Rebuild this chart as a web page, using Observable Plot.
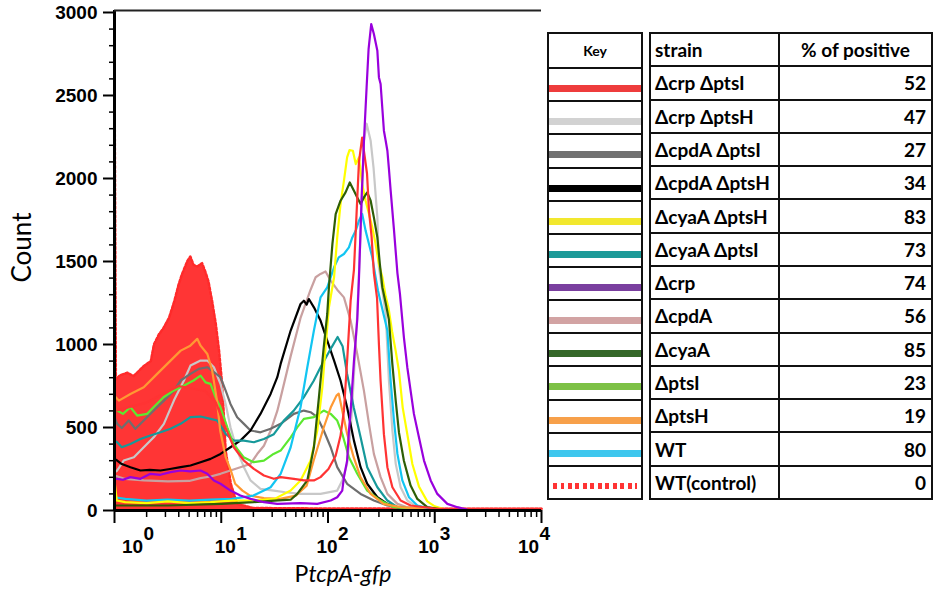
<!DOCTYPE html>
<html>
<head>
<meta charset="utf-8">
<script src="https://cdn.jsdelivr.net/npm/d3@7"></script>
<script src="https://cdn.jsdelivr.net/npm/@observablehq/plot@0.6"></script>
<style>
  body { margin: 0; background: #fff; }
  #wrap { position: relative; width: 934px; height: 599px; overflow: hidden; background: #fff; }
  #chart { position: absolute; left: 0; top: 0; }
  #key { position: absolute; left: 547px; top: 32px; width: 96px; height: 468px; box-sizing: border-box;
         border: 2px solid #111; display: grid; grid-template-rows: repeat(14, 1fr); font-family: Lato, sans-serif; }
  #key .cell { position: relative; border-top: 2px solid #111; }
  #key .cell:first-child { border-top: none; display: flex; align-items: center; justify-content: center;
         font-weight: bold; font-size: 14px; }
  #key .ln { position: absolute; left: 0; right: 0; top: 16px; height: 7px; }
  #tbl { position: absolute; left: 649px; top: 32px; width: 284px; height: 468px; box-sizing: border-box;
         border-left: 2px solid #111; border-top: 2px solid #111; display: grid;
         grid-template-columns: 129px 1fr; grid-template-rows: repeat(14, 1fr);
         font-family: Lato, sans-serif; font-weight: bold; font-size: 19px; color: #000; }
  #tbl div { border-right: 2px solid #111; border-bottom: 2px solid #111; display: flex; align-items: center;
         padding: 0 4px; white-space: nowrap; overflow: hidden; }
  #tbl .num { justify-content: flex-end; padding-right: 5px; }
  #tbl .hdr2 { justify-content: center; }
</style>
</head>
<body>
<div id="wrap">
  <div id="chart"></div>
  <div id="key"></div>
  <div id="tbl"></div>
</div>
<script>
// ---------------- data ----------------
const strains = ["Δcrp ΔptsI", "Δcrp ΔptsH", "ΔcpdA ΔptsI", "ΔcpdA ΔptsH", "ΔcyaA ΔptsH", "ΔcyaA ΔptsI",
  "Δcrp", "ΔcpdA", "ΔcyaA", "ΔptsI", "ΔptsH", "WT", "WT(control)"];
const percentPositive = [52, 47, 27, 34, 83, 73, 74, 56, 85, 23, 19, 80, 0];

// histograms: [PtcpA-gfp intensity, count]
const crpPtsI = [[1,600],[2,650],[3.98,750],[7.08,720],[8.91,650],[10.6,522],[13.1,381],[16.3,301],[20.2,251],[25.1,211],[31.1,191],[36,201],[47.9,191],[59.4,181],[73.8,181],[85.1,201],[101,250],[118,330],[131,450],[141,600],[151,900],[163,1264],[175,1450],[188,1880],[195,2100],[209,2247],[217,2167],[232,2030],[242,1806],[256,1650],[269,1430],[288,1280],[300,1000],[311,780],[334,460],[360,261],[401,140],[479,60],[594,30],[1000,12],[10000,10]];
const crpPtsH = [[1,230],[1.06,241],[1.22,301],[1.52,321],[1.88,381],[2.33,441],[2.9,522],[3.6,662],[4.47,783],[5.15,873],[6.4,903],[7.4,903],[8.53,863],[9.84,763],[11,642],[12.2,501],[14.1,361],[16.3,261],[18.8,181],[23.3,130],[31.1,120],[39.8,110],[55.3,100],[85.1,100],[122,120],[136,181],[151,281],[163,482],[174,783],[188,1186],[202,1666],[217,2227],[230,2330],[251,2227],[267,2066],[290,1765],[300,1463],[347,1186],[372,783],[401,482],[431,281],[479,140],[553,60],[687,20],[1000,5]];
const cpdAPtsI = [[1,560],[1.06,522],[1.17,497],[1.36,542],[1.57,492],[1.88,542],[2.33,602],[2.9,662],[3.6,722],[4.16,783],[5.15,823],[6.17,853],[7.4,863],[8.53,833],[9.84,803],[11,722],[12.2,642],[14.1,562],[16.3,522],[18.8,482],[23.3,471],[29,492],[36,522],[47.9,582],[59.4,602],[68.7,592],[79.4,562],[91.2,482],[106,381],[122,261],[151,161],[202,100],[269,60],[360,30],[631,5]];
const cpdAPtsH = [[1,310],[1.06,301],[1.17,280],[1.41,261],[1.75,241],[2.14,245],[2.7,241],[3.31,250],[4.16,261],[5.15,271],[6.4,291],[7.94,311],[9.84,341],[12.2,381],[15.1,421],[18.8,482],[23.3,582],[29,702],[33.5,803],[36,883],[44.7,1084],[55.3,1244],[59.4,1264],[63.1,1240],[66.2,1274],[73.8,1224],[85.1,1144],[98.4,1023],[114,903],[131,783],[151,622],[175,421],[202,261],[233,161],[290,80],[360,40],[447,20],[794,3]];
const cyaAPtsH = [[1,180],[1.05,60],[1.26,50],[2,45],[3.16,55],[5.01,45],[7.94,50],[12.6,60],[20,60],[31.6,70],[44.7,120],[55.3,181],[68.7,301],[79.4,482],[88.5,742],[94.8,983],[102,1224],[114,1405],[122,1645],[131,1846],[141,1986],[151,2127],[159,2171],[171,2167],[182,2087],[195,2127],[209,1966],[225,1866],[242,1786],[260,1706],[279,1606],[300,1485],[323,1405],[347,1290],[369,1220],[398,1080],[431,960],[462,840],[501,620],[553,460],[617,280],[711,145],[851,55],[1000,25],[1259,5]];
const cyaAPtsI = [[1,420],[1.06,411],[1.17,381],[1.41,401],[1.75,431],[2.17,452],[2.7,471],[3.35,492],[4.16,522],[5.15,562],[6.4,566],[7.94,552],[9.16,542],[9.84,512],[11,462],[13.1,421],[16.3,421],[20.2,411],[25.1,431],[31.1,460],[38.4,540],[47.6,600],[59,680],[73.3,780],[85.1,863],[108,983],[123,1045],[137,990],[151,823],[174,622],[202,441],[233,261],[290,140],[360,60],[447,20],[794,3]];
const crp = [[1,190],[1.06,191],[1.2,185],[1.41,201],[1.75,191],[2.17,221],[2.69,215],[3.35,231],[4.16,241],[5.13,236],[6.4,241],[7.4,221],[8.53,181],[9.84,161],[12.2,120],[15.1,90],[18.8,70],[25.1,50],[33.5,40],[55.3,45],[79.4,40],[106,60],[122,80],[136,120],[141,200],[151,300],[157,480],[163,600],[175,900],[188,1150],[195,1400],[207,1900],[218,2250],[230,2550],[240,2780],[254,2930],[269,2870],[290,2769],[300,2609],[311,2569],[323,2420],[334,2288],[347,2227],[360,2167],[372,2060],[386,1930],[415,1690],[447,1430],[472,1305],[514,1043],[553,863],[594,722],[638,582],[711,441],[793,301],[916,181],[1057,100],[1312,40],[1629,20],[1995,5]];
const cpdA = [[1,210],[1.26,190],[1.88,181],[3.16,175],[5.01,178],[6.4,195],[7.94,205],[9.84,221],[12.2,241],[15.1,261],[18.8,281],[21.7,340],[25.1,390],[29,480],[33.5,600],[36,680],[44.7,930],[55.3,1160],[68.7,1330],[76.6,1405],[85.1,1425],[94.8,1440],[106,1385],[122,1330],[141,1284],[163,1144],[188,943],[217,722],[242,522],[269,341],[311,201],[360,100],[447,40],[553,20],[1000,3]];
const cyaA = [[1,30],[3.16,30],[10,40],[20,50],[31.6,60],[44.7,65],[51.5,100],[64,181],[73.8,381],[82.2,682],[91.2,983],[98.4,1184],[102,1344],[110,1606],[118,1786],[131,1866],[146,1916],[160,1976],[175,1926],[188,1886],[202,1846],[217,1886],[233,1916],[251,1866],[269,1766],[290,1645],[306,1485],[323,1344],[347,1250],[372,1150],[401,880],[431,660],[462,470],[514,300],[594,150],[687,70],[851,20],[1259,3]];
const ptsI = [[1,610],[1.06,602],[1.2,582],[1.41,622],[1.63,572],[2.02,582],[2.32,622],[2.88,682],[3.57,722],[4.44,752],[5.5,783],[6.4,813],[7.13,772],[7.94,763],[8.85,682],[9.84,622],[11.4,501],[13,401],[16.2,321],[20.1,291],[25.1,300],[30.9,341],[36,361],[44.7,441],[51.5,501],[59.4,552],[73.8,562],[91.2,602],[106,582],[122,542],[136,462],[157,321],[188,221],[233,120],[311,60],[412,20],[1000,3]];
const ptsH = [[1,690],[1.1,662],[1.41,702],[1.88,742],[2.51,823],[3.35,903],[4.17,963],[5.13,993],[5.96,1034],[6.4,993],[7.41,943],[8.22,843],[9.12,662],[9.77,482],[11,321],[12.3,241],[13.5,161],[15.8,120],[18.6,90],[25.1,75],[35.5,70],[50.1,90],[63.1,150],[73.3,300],[91.2,500],[106,620],[120,692],[126,704],[136,602],[151,462],[174,321],[202,200],[251,100],[331,40],[479,20],[1000,5]];
const wt = [[1,80],[1.26,70],[2,60],[3.16,65],[5.01,60],[7.94,65],[12.6,70],[20,90],[29,140],[36,221],[44.7,381],[55.3,622],[64,863],[73.8,1084],[85.1,1284],[98.4,1344],[114,1465],[126,1525],[141,1545],[157,1585],[169,1645],[182,1686],[195,1746],[209,1786],[225,1686],[242,1606],[260,1525],[279,1405],[294,1324],[360,1084],[386,783],[415,542],[447,341],[497,181],[573,80],[687,30],[1000,5]];
const wtControl = [[1,2700],[1.03,790],[1.13,815],[1.32,830],[1.51,810],[1.88,870],[2.19,900],[2.34,1000],[2.6,1060],[2.88,1100],[3.24,1160],[3.63,1260],[3.98,1360],[4.27,1420],[4.79,1500],[5.13,1530],[5.5,1480],[5.96,1470],[6.61,1490],[7.08,1440],[7.59,1380],[8.22,1260],[8.91,1120],[9.55,960],[10.2,760],[10.6,560],[11,360],[12.3,160],[14.1,40],[20,15],[100,12],[10000,10]];

// axis ticks
const xMajorTicks = [1, 10, 100, 1000, 10000];
const xTickExponents = ["0", "1", "2", "3", "4"];
const xMinorTicks = [2,3,4,5,6,7,8,9, 20,30,40,50,60,70,80,90, 200,300,400,500,600,700,800,900, 2000,3000,4000,5000,6000,7000,8000,9000];
const yMajorTicks = [0, 500, 1000, 1500, 2000, 2500, 3000];
const yMinorTicks = [100,200,300,400,600,700,800,900,1100,1200,1300,1400,1600,1700,1800,1900,2100,2200,2300,2400,2600,2700,2800,2900];
const yMax = 3012;

// ---------------- styles ----------------
const chartColors = ["#ff3333", "#c8c8c8", "#6e6e6e", "#000000", "#ffff00", "#16999a",
  "#9900dd", "#c9a0a0", "#2e5e06", "#5ce830", "#ff9933", "#12c5f2", "#ff3333"];
const keyColors = ["#ee3c3c", "#d2d2d2", "#717171", "#000000", "#f2e82e", "#1d9a98",
  "#7a3f9f", "#d2a3a3", "#356829", "#7dc146", "#f7a04a", "#3ec7ee", "#ff3333"];
const seriesData = [crpPtsI, crpPtsH, cpdAPtsI, cpdAPtsH, cyaAPtsH, cyaAPtsI, crp, cpdA, cyaA, ptsI, ptsH, wt];
const drawOrder = [1, 7, 2, 3, 5, 9, 10, 11, 4, 8, 0, 6];
const xLabelShift = [18, 4, -1, -6, -13];

const lineMarks = drawOrder.map(i => Plot.line(seriesData[i], {
  x: d => d[0], y: d => d[1], stroke: chartColors[i], strokeWidth: 2.2, curve: "linear"
}));

const labelMarks = xMajorTicks.flatMap((v, i) => [
  Plot.text([v], {x: d => d, y: d => 0, text: d => "10", dx: xLabelShift[i], dy: 36}),
  Plot.text([v], {x: d => d, y: d => 0, text: d => xTickExponents[i], dx: xLabelShift[i] + 11, dy: 23, textAnchor: "start"})
]);

const plot = Plot.plot({
  width: 545,
  height: 599,
  marginLeft: 114,
  marginRight: 4,
  marginTop: 10,
  marginBottom: 89,
  style: {fontFamily: "'Liberation Sans', Arial, sans-serif", fontSize: "19px", fontWeight: "bold", background: "transparent", overflow: "visible"},
  x: {type: "log", domain: [1, 10000], axis: null},
  y: {domain: [0, yMax], axis: null},
  marks: [
    Plot.areaY(wtControl, {x: d => d[0], y: d => d[1], fill: "#ff3535", curve: "linear"}),
    Plot.line(wtControl, {x: d => d[0], y: d => d[1], stroke: "#ff2a2a", strokeWidth: 2.5, strokeDasharray: "2.5,2"}),
    ...lineMarks,
    Plot.ruleY([0], {stroke: "#000", strokeWidth: 3}),
    Plot.ruleX([1], {stroke: "#000", strokeWidth: 3}),
    Plot.ruleY([yMax], {stroke: "#222", strokeWidth: 2}),
    Plot.axisY({ticks: yMajorTicks, tickSize: 11, tickPadding: 6, strokeWidth: 2, label: null, tickFormat: d => String(d)}),
    Plot.axisY({ticks: yMinorTicks, tickSize: 5, strokeWidth: 1.5, label: null, tickFormat: () => ""}),
    Plot.axisX({ticks: xMajorTicks, tickSize: 13, strokeWidth: 2, label: null, tickFormat: () => ""}),
    Plot.axisX({ticks: xMinorTicks, tickSize: 7, strokeWidth: 1.5, label: null, tickFormat: () => ""}),
    ...labelMarks,
    Plot.text(["Count"], {frameAnchor: "left", text: d => d, rotate: -90, dx: -92, dy: 22,
      fontFamily: "Lato, sans-serif", fontWeight: "normal", fontSize: 26}),
    Plot.text(["PtcpA-gfp"], {frameAnchor: "bottom", text: d => d, dx: 15, dy: 71,
      fontFamily: "Lato, sans-serif", fontWeight: "normal", fontSize: 23})
  ]
});
document.getElementById("chart").appendChild(plot);

// italic part of the axis title
d3.select(plot).selectAll("text").each(function() {
  if (this.textContent === "PtcpA-gfp") {
    this.textContent = "";
    const t = d3.select(this);
    t.append("tspan").text("P");
    t.append("tspan").attr("font-style", "italic").text("tcpA-gfp");
  }
});

// ---------------- key + table ----------------
const key = document.getElementById("key");
const kh = document.createElement("div");
kh.className = "cell"; kh.textContent = "Key"; key.appendChild(kh);
strains.forEach((s, i) => {
  const c = document.createElement("div");
  c.className = "cell";
  const ln = document.createElement("div");
  ln.className = "ln";
  if (i === strains.length - 1) {
    ln.style.background = `repeating-linear-gradient(90deg, ${keyColors[i]} 0 4px, transparent 4px 7.5px)`;
    ln.style.height = "6px";
    ln.style.left = "4px"; ln.style.right = "4px";
  } else {
    ln.style.background = keyColors[i];
  }
  c.appendChild(ln);
  key.appendChild(c);
});

const tbl = document.getElementById("tbl");
const addCell = (txt, cls) => { const d = document.createElement("div"); d.textContent = txt; if (cls) d.className = cls; tbl.appendChild(d); };
addCell("strain");
addCell("% of positive", "hdr2");
strains.forEach((s, i) => { addCell(s); addCell(String(percentPositive[i]), "num"); });
</script>
</body>
</html>
